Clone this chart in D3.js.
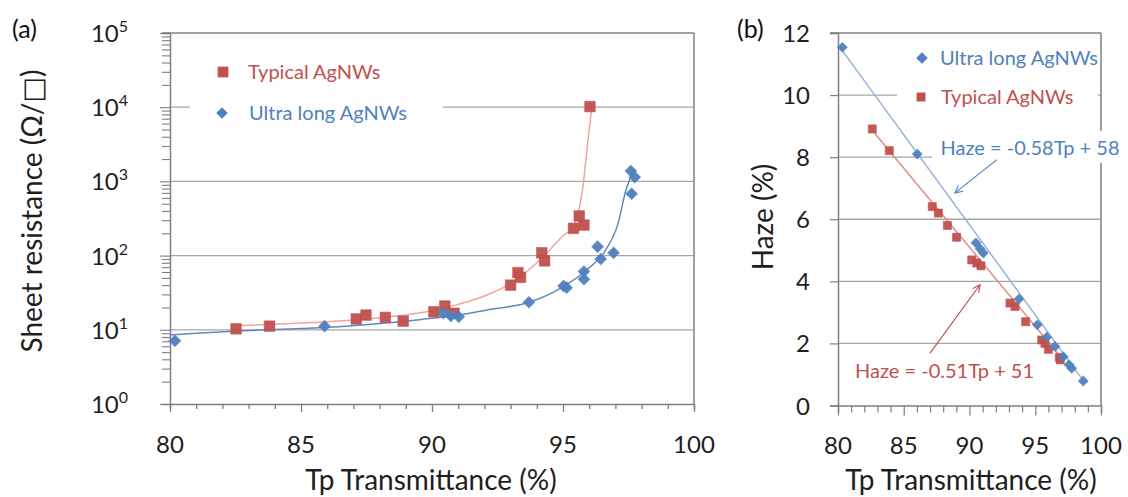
<!DOCTYPE html>
<html><head><meta charset="utf-8">
<script src="https://cdn.jsdelivr.net/npm/d3@7"></script>
<style>
body{margin:0;background:#fff}
svg{display:block}
text{font-family:Lato,"Open Sans",sans-serif}
</style>
</head><body>
<svg id="c" width="1128" height="497"></svg>
<script>
// ---------- shared ----------
const xTickLabels = [80, 85, 90, 95, 100];
const xMinorTicks = d3.range(80, 101, 1);
const seriesNames = ["Typical AgNWs", "Ultra long AgNWs"];
const colRed = "#C0504D", colBlue = "#4F81BD";

// ---------- panel (a): sheet resistance vs transmittance ----------
const yTicksA = [1, 10, 100, 1000, 10000, 100000];
const yExpA = ["0", "1", "2", "3", "4", "5"];
const typicalA_T = [82.52, 83.8, 87.11, 87.48, 88.22, 88.9, 90.07, 90.49, 90.84, 93.0, 93.28, 93.38, 94.19, 94.3, 95.4, 95.62, 95.8, 96.03];
const typicalA_R = [10.3, 11.2, 14.0, 15.8, 14.7, 13.1, 17.5, 20.9, 16.7, 40, 59, 51, 109, 85, 233, 342, 258, 10200];
const ultraA_T = [80.19, 85.9, 90.43, 90.72, 91.02, 93.7, 95.02, 95.14, 95.8, 95.8, 96.32, 96.44, 96.93, 97.59, 97.74, 97.62];
const ultraA_R = [7.1, 11.2, 16.7, 15.4, 15.0, 23.5, 39, 37, 48, 61, 132, 90, 109, 1380, 1140, 680];
// fitted curves
const typicalFitA_T = [82.5, 84, 86, 87.5, 89, 90, 91, 92, 93, 94, 94.5, 95, 95.4, 95.75, 95.95, 96.1];
const typicalFitA_R = [11.3, 11.9, 12.8, 14, 15.8, 18, 22, 28.5, 42, 80, 120, 185, 250, 800, 3500, 10000];
const ultraFitA_T = [80, 81, 83, 86, 88, 89.6, 91, 92.1, 93.7, 95, 95.9, 96.6, 97.1, 97.4, 97.65];
const ultraFitA_R = [8.5, 9.0, 9.8, 10.8, 12.2, 13.8, 15.8, 18.5, 23.5, 38, 64, 115, 270, 760, 1300];

// ---------- panel (b): haze vs transmittance ----------
const yTicksB = [0, 2, 4, 6, 8, 10, 12];
const ultraB_T = [80.33, 86.03, 90.49, 90.8, 91.05, 93.76, 95.16, 95.87, 96.5, 97.13, 97.57, 97.77, 98.65];
const ultraB_H = [11.54, 8.10, 5.24, 5.05, 4.91, 3.43, 2.60, 2.20, 1.90, 1.57, 1.31, 1.20, 0.79];
const typicalB_T = [82.61, 83.9, 87.17, 87.63, 88.32, 89.02, 90.17, 90.55, 90.87, 93.08, 93.46, 94.27, 95.49, 95.74, 96.0, 96.83, 96.9];
const typicalB_H = [8.91, 8.21, 6.41, 6.2, 5.8, 5.42, 4.69, 4.59, 4.5, 3.3, 3.19, 2.70, 2.11, 2.0, 1.81, 1.55, 1.47];
const ultraTrendB_T = [80.3, 98.65], ultraTrendB_H = [11.45, 0.8];
const typicalTrendB_T = [82.6, 97.0], typicalTrendB_H = [8.87, 1.53];
const eqTexts = ["Haze = -0.58Tp + 58", "Haze = -0.51Tp + 51"];
// annotation anchor points in data units: [textT, textH, arrowFromT, arrowFromH, arrowToT, arrowToH]
const eqUltra = [87.8, 8.31, 92.09, 7.92, 88.9, 6.85];
const eqTypical = [81.3, 1.12, 87.0, 1.69, 90.8, 3.89];

const svg = d3.select("#c");
svg.append("rect").attr("width", 1128).attr("height", 497).attr("fill", "#fff");

const defs = svg.append("defs");
[["arrB", colBlue], ["arrR", colRed]].forEach(([id, c]) => {
  defs.append("marker").attr("id", id).attr("viewBox", "0 0 10 10").attr("refX", 9).attr("refY", 5)
    .attr("markerWidth", 9).attr("markerHeight", 9).attr("markerUnits", "userSpaceOnUse").attr("orient", "auto")
    .append("path").attr("d", "M1,1 L9,5 L1,9").attr("fill", "none").attr("stroke", c).attr("stroke-width", 1.3);
});

const axisCol = "#7f7f7f", gridCol = "#a6a6a6", textCol = "#1e1e1e";
const sqPath = a => d3.symbol(d3.symbolSquare, a)();

function drawMarkers(g, xs, ys, xS, yS, kind, area, color) {
  g.selectAll(null).data(xs.map((x, i) => [x, ys[i]])).join("path")
    .attr("d", sqPath(area))
    .attr("transform", d => `translate(${xS(d[0])},${yS(d[1])})` + (kind === "diamond" ? " rotate(45)" : ""))
    .attr("fill", color).attr("fill-opacity", 0.95)
    .attr("stroke", color).attr("stroke-opacity", 0.55).attr("stroke-width", 1);
}

// ================= Panel (a) =================
const xA = d3.scaleLinear([80, 100], [170, 694]);
const yA = d3.scaleLog([1, 1e5], [404, 33]);
const gA = svg.append("g");

gA.append("g").selectAll("line").data(yTicksA.slice(1, -1)).join("line")
  .attr("x1", xA(80)).attr("x2", xA(100)).attr("y1", d => yA(d)).attr("y2", d => yA(d))
  .attr("stroke", gridCol).attr("stroke-width", 1.3);

gA.append("line").attr("x1", xA(80) - 8).attr("x2", xA(100)).attr("y1", yA(1e5)).attr("y2", yA(1e5)).attr("stroke", axisCol).attr("stroke-width", 1.3);
gA.append("line").attr("x1", xA(100)).attr("x2", xA(100)).attr("y1", yA(1e5)).attr("y2", yA(1)).attr("stroke", axisCol).attr("stroke-width", 1.5);

const xAxA = gA.append("g").attr("transform", `translate(0,${yA(1)})`)
  .call(d3.axisBottom(xA).tickValues(xMinorTicks).tickSize(5).tickFormat(""));
xAxA.select(".domain").attr("stroke", axisCol).attr("stroke-width", 1.5);
xAxA.selectAll(".tick line").attr("stroke", axisCol).attr("stroke-width", 1.3)
  .attr("y2", d => xTickLabels.includes(d) ? 8 : 5);
gA.append("g").selectAll("text").data(xTickLabels).join("text")
  .attr("x", d => xA(d)).attr("y", 453).attr("text-anchor", "middle")
  .attr("font-size", 24).attr("fill", textCol).text(d => d);

const minorA = [];
for (let e = 0; e < 5; e++) for (let m = 1; m <= 9; m++) minorA.push(m * Math.pow(10, e));
minorA.push(1e5);
const yAxA = gA.append("g").attr("transform", `translate(${xA(80)},0)`)
  .call(d3.axisLeft(yA).tickValues(minorA).tickSize(8).tickFormat(""));
yAxA.select(".domain").attr("stroke", axisCol).attr("stroke-width", 1.5);
yAxA.selectAll(".tick line").attr("stroke", axisCol).attr("stroke-width", 1.1)
  .attr("x2", d => yTicksA.includes(d) ? -10 : -8);
const yLab = gA.append("g").selectAll("text").data(yTicksA).join("text")
  .attr("x", 128).attr("y", d => yA(d) + 9).attr("text-anchor", "end")
  .attr("font-size", 24).attr("fill", textCol);
yLab.append("tspan").text("10");
yLab.append("tspan").attr("font-size", 16).attr("dy", -10).text((d, i) => yExpA[i]);

gA.append("rect").attr("x", 190).attr("y", 46).attr("width", 253).attr("height", 86).attr("fill", "#fff");

const lineA = d3.line().curve(d3.curveMonotoneX);
gA.append("path").attr("d", lineA(typicalFitA_T.map((t, i) => [xA(t), yA(typicalFitA_R[i])])))
  .attr("fill", "none").attr("stroke", "#F2A3A1").attr("stroke-width", 1.5);
gA.append("path").attr("d", lineA(ultraFitA_T.map((t, i) => [xA(t), yA(ultraFitA_R[i])])))
  .attr("fill", "none").attr("stroke", "#6287BC").attr("stroke-width", 1.5);

drawMarkers(gA, typicalA_T, typicalA_R, xA, yA, "square", 112, colRed);
drawMarkers(gA, ultraA_T, ultraA_R, xA, yA, "diamond", 68, colBlue);

gA.append("path").attr("d", sqPath(115)).attr("transform", "translate(223,72)").attr("fill", colRed);
gA.append("text").attr("x", 248).attr("y", 79).attr("font-size", 20).attr("fill", colRed).text(seriesNames[0]);
gA.append("path").attr("d", sqPath(66)).attr("transform", "translate(222,113) rotate(45)").attr("fill", colBlue);
gA.append("text").attr("x", 249).attr("y", 120).attr("font-size", 20).attr("fill", colBlue).text(seriesNames[1]);

gA.append("text").attr("x", 12).attr("y", 38).attr("font-size", 25).attr("fill", "#111").text("(a)");
const yTitleA = gA.append("text").attr("transform", "translate(42,211) rotate(-90)").attr("text-anchor", "middle")
  .attr("font-size", 28).attr("fill", textCol);
yTitleA.append("tspan").text("Sheet resistance (Ω/");
yTitleA.append("tspan").attr("font-family", "DejaVu Sans").attr("font-size", 27).text("□");
yTitleA.append("tspan").text(")");
gA.append("text").attr("x", 431).attr("y", 490).attr("text-anchor", "middle")
  .attr("font-size", 28).attr("fill", textCol).text("Tp Transmittance (%)");

// ================= Panel (b) =================
const xB = d3.scaleLinear([80, 100], [838, 1101]);
const yB = d3.scaleLinear([0, 12], [405.5, 33]);
const gB = svg.append("g");

gB.append("g").selectAll("line").data(yTicksB.slice(1, -1)).join("line")
  .attr("x1", xB(80)).attr("x2", xB(100)).attr("y1", d => yB(d)).attr("y2", d => yB(d))
  .attr("stroke", gridCol).attr("stroke-width", 1.3);
gB.append("line").attr("x1", xB(80) - 8).attr("x2", xB(100)).attr("y1", yB(12)).attr("y2", yB(12)).attr("stroke", axisCol).attr("stroke-width", 1.3);
gB.append("line").attr("x1", xB(100)).attr("x2", xB(100)).attr("y1", yB(12)).attr("y2", yB(0)).attr("stroke", axisCol).attr("stroke-width", 1.5);

const xAxB = gB.append("g").attr("transform", `translate(0,${yB(0)})`)
  .call(d3.axisBottom(xB).tickValues(xMinorTicks).tickSize(7).tickFormat(""));
xAxB.select(".domain").attr("stroke", axisCol).attr("stroke-width", 1.5);
xAxB.selectAll(".tick line").attr("stroke", axisCol).attr("stroke-width", 1.2)
  .attr("y2", d => xTickLabels.includes(d) ? 10 : 7);
gB.append("g").selectAll("text").data(xTickLabels).join("text")
  .attr("x", d => xB(d)).attr("y", 454).attr("text-anchor", "middle")
  .attr("font-size", 24).attr("fill", textCol).text(d => d);

const yAxB = gB.append("g").attr("transform", `translate(${xB(80)},0)`)
  .call(d3.axisLeft(yB).tickValues(yTicksB).tickSize(8).tickFormat(""));
yAxB.select(".domain").attr("stroke", axisCol).attr("stroke-width", 1.5);
yAxB.selectAll(".tick line").attr("stroke", axisCol).attr("stroke-width", 1.2);
gB.append("g").selectAll("text").data(yTicksB).join("text")
  .attr("x", 810).attr("y", d => yB(d) + 9).attr("text-anchor", "end")
  .attr("font-size", 24).attr("fill", textCol).text(d => d);

gB.append("rect").attr("x", 897).attr("y", 40).attr("width", 201).attr("height", 72).attr("fill", "#fff");
gB.append("rect").attr("x", 932).attr("y", 131).attr("width", 185).attr("height", 32).attr("fill", "#fff");

gB.append("line").attr("x1", xB(ultraTrendB_T[0])).attr("y1", yB(ultraTrendB_H[0]))
  .attr("x2", xB(ultraTrendB_T[1])).attr("y2", yB(ultraTrendB_H[1]))
  .attr("stroke", "#95B3D7").attr("stroke-width", 1.5);
gB.append("line").attr("x1", xB(typicalTrendB_T[0])).attr("y1", yB(typicalTrendB_H[0]))
  .attr("x2", xB(typicalTrendB_T[1])).attr("y2", yB(typicalTrendB_H[1]))
  .attr("stroke", "#E28B89").attr("stroke-width", 1.5);

drawMarkers(gB, typicalB_T, typicalB_H, xB, yB, "square", 66, colRed);
drawMarkers(gB, ultraB_T, ultraB_H, xB, yB, "diamond", 48, colBlue);

gB.append("path").attr("d", sqPath(66)).attr("transform", "translate(922,58) rotate(45)").attr("fill", colBlue);
gB.append("text").attr("x", 940).attr("y", 65).attr("font-size", 20).attr("fill", colBlue).text(seriesNames[1]);
gB.append("path").attr("d", sqPath(80)).attr("transform", "translate(921,97)").attr("fill", colRed);
gB.append("text").attr("x", 941).attr("y", 104).attr("font-size", 20).attr("fill", colRed).text(seriesNames[0]);

[[eqUltra, eqTexts[0], colBlue, "arrB"], [eqTypical, eqTexts[1], colRed, "arrR"]].forEach(([a, t, c, m]) => {
  gB.append("text").attr("x", xB(a[0])).attr("y", yB(a[1]) + 7).attr("font-size", 20).attr("fill", c).text(t);
  gB.append("line").attr("x1", xB(a[2])).attr("y1", yB(a[3])).attr("x2", xB(a[4])).attr("y2", yB(a[5]))
    .attr("stroke", c).attr("stroke-width", 1.2).attr("marker-end", `url(#${m})`);
});

gB.append("text").attr("x", 737).attr("y", 38).attr("font-size", 25).attr("fill", "#111").text("(b)");
gB.append("text").attr("transform", "translate(773,217) rotate(-90)").attr("text-anchor", "middle")
  .attr("font-size", 28).attr("fill", textCol).text("Haze (%)");
gB.append("text").attr("x", 971).attr("y", 490).attr("text-anchor", "middle")
  .attr("font-size", 28).attr("fill", textCol).text("Tp Transmittance (%)");
</script>
</body></html>
